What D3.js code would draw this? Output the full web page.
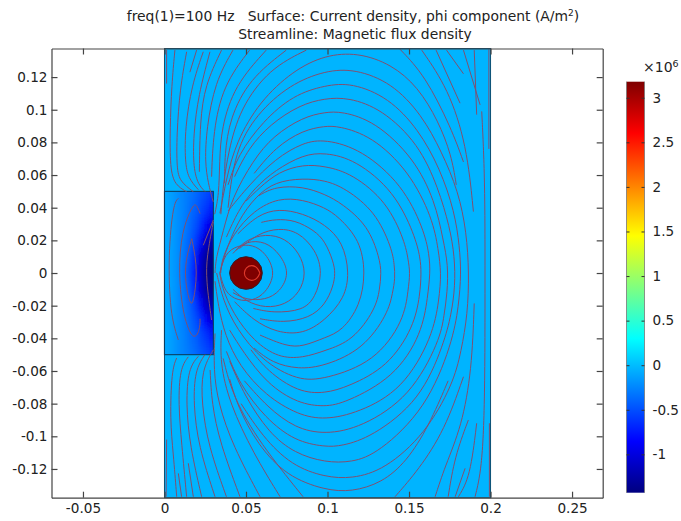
<!DOCTYPE html>
<html>
<head>
<meta charset="utf-8">
<script src="https://cdn.jsdelivr.net/npm/d3@7"></script>
<style>
  html, body { margin: 0; background: #fff; }
  svg { display: block; }
  text { font-family: "DejaVu Sans", sans-serif; fill: #222; }
</style>
</head>
<body>
<div id="chart"></div>
<script>
// Tick values (metres on both axes, 1e6 A/m2 on the colour bar)
const xTicks = [-0.05, 0, 0.05, 0.1, 0.15, 0.2, 0.25];
const yTicks = [-0.12, -0.1, -0.08, -0.06, -0.04, -0.02, 0, 0.02, 0.04, 0.06, 0.08, 0.1, 0.12];
const barTicks = [-1, -0.5, 0, 0.5, 1, 1.5, 2, 2.5, 3];
const xRange = [-0.0693, 0.2688];
const yRange = [-0.1376, 0.1375];
const barRange = [-1.43, 3.18];
const jetColors = ["#00007f", "#0000ff", "#00ffff", "#ffff00", "#ff0000", "#7f0000"];
const jetStops = [0, 0.125, 0.375, 0.625, 0.875, 1];

// Geometry in mm
const airBox = [0, 200];
const plateBox = { x: [0, 30], y: [-50, 50] };
const wire = { x: 50, y: 0, r: 10 };
const airValue = -0.04;
const wireValue = 3.18;

// Current density in the plate, 1e6 A/m2 (rows by y, columns by x)
const plateY = [50, 40, 30, 20, 10, 0, -10, -20, -30, -40, -50];
const plateX = [1.5, 4.5, 7.5, 10.5, 13.5, 16.5, 19.5, 22.5, 25.5, 28.5];
const plateJ = [
  [-0.1, -0.15, -0.2, -0.25, -0.28, -0.33, -0.38, -0.45, -0.5, -0.58],
  [-0.1, -0.15, -0.2, -0.25, -0.3, -0.37, -0.43, -0.52, -0.6, -0.72],
  [-0.1, -0.15, -0.2, -0.25, -0.32, -0.4, -0.5, -0.65, -0.85, -1.0],
  [-0.1, -0.15, -0.2, -0.27, -0.35, -0.45, -0.62, -0.9, -1.1, -1.25],
  [-0.1, -0.15, -0.2, -0.28, -0.38, -0.55, -0.8, -1.1, -1.3, -1.4],
  [-0.1, -0.15, -0.2, -0.3, -0.42, -0.6, -0.85, -1.15, -1.35, -1.42],
  [-0.1, -0.15, -0.2, -0.28, -0.38, -0.55, -0.8, -1.1, -1.3, -1.4],
  [-0.1, -0.15, -0.2, -0.27, -0.35, -0.45, -0.62, -0.9, -1.1, -1.25],
  [-0.1, -0.15, -0.2, -0.25, -0.32, -0.4, -0.5, -0.65, -0.85, -1.0],
  [-0.1, -0.15, -0.2, -0.25, -0.3, -0.37, -0.43, -0.52, -0.6, -0.72],
  [-0.1, -0.15, -0.2, -0.25, -0.28, -0.33, -0.38, -0.45, -0.5, -0.58],
];

// Streamlines around the wire, [x, y] in mm
const wireLines = [
  [[34,36.6],[38,58],[44,80.4],[58.3,105],[78.9,124],[98.5,133.5],[118.5,135],[139,128],[155.5,114],[168,93],[176,72.3],[179,54]],
  [[39,40],[43,74.3],[56.5,97.5],[77,115.5],[98.5,124],[116.9,125],[139.4,116.5],[157.8,97],[170,74.3],[180.3,50],[185.3,25],[186.8,0],[186,-25],[182,-48],[177,-68],[160,-98.5],[135,-120.5],[114.9,-126],[98.5,-125],[78,-118],[60,-100],[47,-80]],
  [[39,54],[45,72.3],[60.4,93],[79,109],[98.5,115],[114.9,116.5],[137.4,107.5],[155.8,88],[169,64],[178,37.6],[181,16],[182,0],[180.5,-20],[176.5,-43],[160.5,-83],[131,-110.5],[114.9,-116],[98.5,-116],[80,-110.5],[64,-98],[49,-75],[40,-54]],
  [[43,59],[51.4,76.3],[64.7,91],[83,103],[98.5,107],[112.8,107.5],[133.3,100.5],[156,79],[168,52],[175,28],[178,10],[178.3,-8],[176,-25],[171.5,-43],[157,-78],[127,-100.5],[108.7,-106],[98.5,-106.5],[80,-103],[62,-89],[46,-68],[38,-48]],
  [[31,0],[31.5,9],[36,25.3],[41.2,45.7],[54.5,69.2],[66.7,84],[85,95.5],[98.5,98.5],[108.7,99],[129,93],[153,70.5],[166,44],[171,20],[174,5],[173.5,-12],[171.5,-26],[169,-41],[151,-75.5],[121,-94.5],[98.5,-99],[80,-95],[63,-82],[49,-66]],
  [[55,61],[68,77],[85,87.5],[98.5,90],[106.7,90],[127,84],[150,62.5],[164.5,33.5],[168,14],[169.8,0],[168.5,-16],[164.5,-39],[146,-71.5],[119,-85.5],[98.5,-90],[82,-87],[62,-75],[46,-57],[37,-38],[33,-20],[31,-5]],
  [[39,38],[52,54],[68,70],[85,80],[98.5,82],[121,75.7],[146,54],[159,27],[162.5,11],[163,0],[161.5,-14],[158,-37],[141,-64],[110.8,-79.5],[98.5,-82],[82,-80],[63,-68],[48,-48],[40,-35]],
  [[38,22],[45,38],[55,52],[68,63],[85,72.5],[98.5,73.8],[117,69.5],[141,50],[153.5,23.3],[157,9],[157.5,0],[156.8,-13],[153,-33],[137,-57.5],[112.8,-69.5],[98.5,-73.8],[82,-73],[63,-60],[53,-47]],
  [[50,44],[58,52],[70,62],[85,66.5],[98.5,65.5],[114.9,61],[136.5,43.7],[147.5,19.2],[149.5,8],[150.7,0],[149.5,-10],[147,-29],[129,-54.5],[98.5,-65],[82,-66],[60,-54],[44,-34],[36,-17],[32,0]],
  [[34,0],[37,12],[45,32],[56,47],[68,56],[85,58],[98.5,56.8],[110.8,52],[129.5,37.6],[139.5,15],[141,5],[141.5,-3],[140,-12],[137,-25],[122,-46.5],[98.5,-57],[82,-59],[66,-55],[55,-46]],
  [[58,47.5],[68,53],[85,53],[98.5,48.2],[108.7,42.7],[125,29],[132,9],[133,0],[132,-10],[129.5,-22],[115.5,-41.5],[98.5,-47.5],[85,-52],[70,-52],[55,-42],[42,-25],[35,-8],[34,0]],
  [[34.5,0],[35,8],[42,24],[55,38.5],[70,46],[85,45],[98.5,40],[106.7,34.5],[120,20.2],[123.4,0],[120,-20],[109,-35.5],[98.5,-39.5],[85,-45],[75,-45],[58.6,-38]],
  [[45,24],[57,35.5],[70,39.5],[85,36.5],[98.5,29.8],[109.5,19],[113.5,0],[110.5,-15.5],[98.5,-29],[85,-37.5],[68.8,-36.5],[54.5,-29],[43,-17.6]],
  [[59.4,31],[68,33],[80,32.5],[92,26],[98.5,19.5],[103.6,7],[104.8,0],[103.6,-8],[98.5,-19.5],[89,-27.5],[72.9,-30.5],[58.6,-28]],
  [[46,15],[58,24.5],[70,27.5],[82,25.5],[93,14],[97,0],[92.5,-15],[85,-23],[66.7,-24.5],[54.5,-21.7]],
  [[42,12],[50,20.5],[62,24],[74,21.5],[83,12],[87,0],[83,-12],[74,-19.5],[62,-21.5],[50,-17.5],[42,-10]],
  [[44,14],[50,19.5],[62,19.5],[71,11.5],[76.8,0],[71,-11.5],[62,-16.5],[50,-16.5],[42,-12]],
  [[34,0],[37,12],[45,17],[54,17.5],[62,12.5],[68.5,0],[62,-12.5],[54,-17],[45,-17],[37,-12],[34,0]],
  [[40,-65],[45,-82],[57,-105],[75,-124.5],[98.5,-133],[114.9,-134],[133.3,-128.5],[148.5,-115.5],[162,-94],[174,-66]],
];

// Streamlines above and below the plate and along the right edge
const outerLines = [
  [[1.3,136.6],[1.3,116]],
  [[6.4,136.5],[4.4,115],[3.4,88.6],[3.4,64],[6.4,53.9],[13.6,49.8]],
  [[13.6,135.5],[9.5,113],[7.5,84.5],[7.5,64],[9.5,56],[17.7,49.8]],
  [[19.7,136.5],[15.6,123]],
  [[23.8,135.5],[16.7,115],[12.6,88.6],[12.6,68],[14.6,58],[20.8,51]],
  [[27.9,135.5],[20.8,109],[17.7,84.5],[17.7,64],[20.8,54],[24.8,50]],
  [[35,136.5],[24.8,115],[21.8,92.6],[21.4,62]],
  [[42,136.5],[31,117],[25.8,88.6],[24.8,68],[26.8,55],[29.9,43.6]],
  [[52.2,136.5],[35.9,115],[29.9,86.5],[28.9,59]],
  [[62.4,136.5],[43,115],[34.8,88.6],[33.8,68],[33.4,48],[30.8,36]],
  [[74.7,136.5],[52.2,119],[40,94.7],[36.9,72.3],[36.9,55]],
  [[87,136.5],[64.5,125.3],[46.3,100.8],[39.2,74.3],[36,54],[34.6,36]],
  [[144.5,137],[159.8,121],[176,88.6],[183.4,68]],
  [[157.8,136.5],[174,113],[185.4,78.4],[189.5,37.6]],
  [[166.6,136.5],[181.3,104]],
  [[173,136.5],[183.4,122]],
  [[183.4,136.5],[193.6,103]],
  [[190,136.5],[191.5,97]],
  [[199,137],[199,76]],
  [[194.6,99],[196.6,58],[196.6,0],[196.6,-80],[194.6,-120.6],[190.5,-137]],
  [[7.5,-52],[4.4,-59.4],[3.4,-90],[5.4,-110.4],[7.5,-137]],
  [[14.6,-51.3],[9.5,-58.4],[8.5,-80],[10.5,-104.3],[13.6,-137]],
  [[20.8,-51],[14.6,-58.4],[13.2,-80],[15.6,-106],[22.8,-137]],
  [[24.8,-50],[18.7,-59.4],[17.7,-80],[20.8,-106],[31,-137]],
  [[30,-47],[22.8,-59.4],[22.8,-80],[26.9,-106],[38,-137]],
  [[28,-59.4],[29,-80],[34,-104],[46.3,-137]],
  [[31,-37],[30,-59.4],[33,-80],[42,-106],[58.6,-137]],
  [[35,-35],[34,-55],[40,-80],[54.5,-110.4],[70.9,-137]],
  [[36,-52.3],[42,-76],[58.6,-104.3],[85,-137]],
  [[1.3,-102],[1,-137]],
  [[8.5,-122.7],[10.5,-137]],
  [[14.6,-116.5],[17.7,-137]],
  [[190,-18.6],[188.5,-59.4],[182.3,-94],[172,-118.6],[166,-137]],
  [[183.4,-63.5],[172,-96],[155.8,-120.6],[141.4,-137]],
  [[186.4,-90],[178,-112.5],[174,-137]],
  [[191.5,-92],[187.5,-125],[180.3,-137]],
  [[184.4,-119.6],[178.3,-137]],
  [[199.3,-92],[199.3,-137]],
];

// Eddy streamlines inside the plate and the wire
const plateLines = [
  [[16.7,21],[13.5,10],[12.6,0],[13.5,-10],[16.7,-22.7],[19,-10],[19.7,0],[19,10],[16.7,21]],
  [[21.8,36.5],[19.7,41.7],[17.7,42.6],[10.5,26],[8.5,0],[11.5,-27],[17.7,-42],[21.8,-35],[21.8,-28]],
  [[8.5,45.7],[5.4,42.6],[2.3,12],[3.4,-25],[8.5,-41]],
  [[30,31.4],[25.9,10],[25.5,-4.3],[28.9,-28.8]],
  [[23.8,17],[30,32.5]],
];
const wireLoop = [[58.5,0],[57,3.5],[53.5,5],[50,3.5],[48.5,0],[50,-3.5],[53.5,-5],[57,-3.5],[58.5,0]];

const width = 681;
const height = 521;
const margin = { top: 48.5, right: 78.3, bottom: 23.3, left: 51.5 };
const bar = { left: 626.5, right: 644.5, top: 81.7, bottom: 492.7 };

const x = d3.scaleLinear().domain(xRange).range([margin.left, width - margin.right]);
const y = d3.scaleLinear().domain(yRange).range([height - margin.bottom, margin.top]);
const barY = d3.scaleLinear().domain(barRange).range([bar.bottom, bar.top]);
const jet = d3.scaleLinear()
  .domain(jetStops.map((t) => barRange[0] + t * (barRange[1] - barRange[0])))
  .range(jetColors)
  .clamp(true);

const svg = d3.select("#chart").append("svg").attr("width", width).attr("height", height);
const defs = svg.append("defs");

defs.append("clipPath").attr("id", "plot-clip").append("rect")
  .attr("x", x(airBox[0] / 1000)).attr("y", y(yRange[1]))
  .attr("width", x(airBox[1] / 1000) - x(airBox[0] / 1000))
  .attr("height", y(yRange[0]) - y(yRange[1]));

defs.append("clipPath").attr("id", "plate-clip").append("rect")
  .attr("x", x(plateBox.x[0] / 1000)).attr("y", y(plateBox.y[1] / 1000))
  .attr("width", x(plateBox.x[1] / 1000) - x(plateBox.x[0] / 1000))
  .attr("height", y(plateBox.y[0] / 1000) - y(plateBox.y[1] / 1000));

defs.append("filter").attr("id", "plate-blur")
  .attr("x", "-20%").attr("y", "-20%").attr("width", "140%").attr("height", "140%")
  .append("feGaussianBlur").attr("stdDeviation", "2.5 6");

defs.append("filter").attr("id", "soft")
  .append("feGaussianBlur").attr("stdDeviation", 0.35);

const gradient = defs.append("linearGradient").attr("id", "jet-bar")
  .attr("x1", 0).attr("y1", 1).attr("x2", 0).attr("y2", 0);
gradient.selectAll("stop").data(jetStops).enter().append("stop")
  .attr("offset", (d) => d)
  .attr("stop-color", (d, i) => jetColors[i]);

// Surface plot
svg.append("rect")
  .attr("x", x(airBox[0] / 1000)).attr("y", y(yRange[1]))
  .attr("width", x(airBox[1] / 1000) - x(airBox[0] / 1000))
  .attr("height", y(yRange[0]) - y(yRange[1]))
  .attr("fill", jet(airValue))
  .attr("stroke", "#0b4f75").attr("stroke-width", 1);

const plate = svg.append("g").attr("clip-path", "url(#plate-clip)")
  .append("g").attr("filter", "url(#plate-blur)");
const dx = 3;
const dy = 10;
plateY.forEach((rowY, r) => {
  plateX.forEach((colX, c) => {
    // border cells run past the plate so the blur does not fade at its edge
    const x0 = c === 0 ? colX - dx * 4 : colX - dx / 2;
    const x1 = c === plateX.length - 1 ? colX + dx * 4 : colX + dx / 2;
    const y0 = r === 0 ? rowY + dy * 3 : rowY + dy / 2;
    const y1 = r === plateY.length - 1 ? rowY - dy * 3 : rowY - dy / 2;
    plate.append("rect")
      .attr("x", x(x0 / 1000)).attr("y", y(y0 / 1000))
      .attr("width", x(x1 / 1000) - x(x0 / 1000) + 0.5)
      .attr("height", y(y1 / 1000) - y(y0 / 1000) + 0.5)
      .attr("fill", jet(plateJ[r][c]));
  });
});

svg.append("rect")
  .attr("x", x(plateBox.x[0] / 1000)).attr("y", y(plateBox.y[1] / 1000))
  .attr("width", x(plateBox.x[1] / 1000) - x(plateBox.x[0] / 1000))
  .attr("height", y(plateBox.y[0] / 1000) - y(plateBox.y[1] / 1000))
  .attr("fill", "none").attr("stroke", "#0a3f63").attr("stroke-width", 1.1);

svg.append("circle")
  .attr("cx", x(wire.x / 1000)).attr("cy", y(wire.y / 1000))
  .attr("r", x(wire.r / 1000) - x(0))
  .attr("fill", jet(wireValue))
  .attr("stroke", "#3a1a20").attr("stroke-width", 1);

// Streamlines
const line = d3.line()
  .x((d) => x(d[0] / 1000))
  .y((d) => y(d[1] / 1000))
  .curve(d3.curveBasis);

svg.append("g")
  .attr("clip-path", "url(#plot-clip)")
  .append("g")
  .attr("filter", "url(#soft)")
  .attr("fill", "none")
  .attr("stroke", "#7f5070")
  .attr("stroke-width", 1)
  .selectAll("path")
  .data(wireLines.concat(outerLines, plateLines))
  .enter()
  .append("path")
  .attr("d", line);

svg.append("path")
  .attr("d", line(wireLoop))
  .attr("fill", "none")
  .attr("stroke", "#e0392b")
  .attr("stroke-width", 1.1);

// Axes on all four sides, ticks pointing inwards
const frame = svg.append("g").attr("class", "axes");
const fontSize = 13.6;
const tickLength = 6;

frame.append("g").attr("transform", `translate(0,${height - margin.bottom})`)
  .call(d3.axisBottom(x).tickValues(xTicks).tickFormat(String).tickSizeInner(-tickLength).tickSizeOuter(0).tickPadding(6));
frame.append("g").attr("transform", `translate(0,${margin.top})`)
  .call(d3.axisTop(x).tickValues(xTicks).tickFormat("").tickSizeInner(-tickLength).tickSizeOuter(0));
frame.append("g").attr("transform", `translate(${margin.left},0)`)
  .call(d3.axisLeft(y).tickValues(yTicks).tickFormat(String).tickSizeInner(-tickLength).tickSizeOuter(0).tickPadding(4));
frame.append("g").attr("transform", `translate(${width - margin.right},0)`)
  .call(d3.axisRight(y).tickValues(yTicks).tickFormat("").tickSizeInner(-tickLength).tickSizeOuter(0));

frame.selectAll("text").attr("font-size", fontSize).attr("font-family", null);
frame.selectAll("path, line").attr("stroke", "#444").attr("stroke-width", 1.2);

// Title
const title = svg.append("g").attr("text-anchor", "middle").attr("font-size", 13.9);
const titleOne = title.append("text").attr("x", 353).attr("y", 21);
titleOne.append("tspan").text("freq(1)=100 Hz\u00a0\u00a0\u00a0Surface: Current density, phi component (A/m");
titleOne.append("tspan").attr("font-size", 9).attr("dy", -5).text("2");
titleOne.append("tspan").attr("dy", 5).text(")");
title.append("text").attr("x", 355).attr("y", 39).text("Streamline: Magnetic flux density");

// Colour bar
svg.append("rect")
  .attr("x", bar.left).attr("y", bar.top)
  .attr("width", bar.right - bar.left).attr("height", bar.bottom - bar.top)
  .attr("fill", "url(#jet-bar)");
svg.append("g").attr("stroke", "#777").attr("stroke-width", 0.8)
  .selectAll("line").data([bar.left, bar.right]).enter().append("line")
  .attr("x1", (d) => d).attr("x2", (d) => d)
  .attr("y1", bar.top).attr("y2", bar.bottom);

const barAxis = svg.append("g").attr("transform", `translate(${bar.right},0)`)
  .call(d3.axisRight(barY).tickValues(barTicks).tickFormat(String).tickSizeInner(-3).tickSizeOuter(0).tickPadding(8));
barAxis.select(".domain").remove();
barAxis.selectAll("line").attr("stroke", "#333");
barAxis.selectAll("text").attr("font-size", fontSize).attr("font-family", null);
svg.append("g").attr("transform", `translate(${bar.left},0)`)
  .call(d3.axisLeft(barY).tickValues(barTicks).tickFormat("").tickSizeInner(-3).tickSizeOuter(0))
  .call((g) => g.select(".domain").remove())
  .selectAll("line").attr("stroke", "#333");

const barTitle = svg.append("text").attr("x", 643).attr("y", 72).attr("font-size", 14);
barTitle.append("tspan").text("\u00d710");
barTitle.append("tspan").attr("font-size", 9.5).attr("dy", -5).text("6");
</script>
</body>
</html>
